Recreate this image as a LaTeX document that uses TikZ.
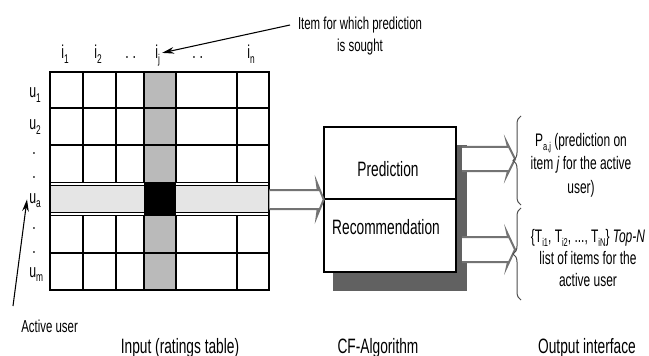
\documentclass[tikz,border=0pt]{standalone}
\usepackage{fontspec}
\setmainfont[FakeStretch=0.66]{Liberation Sans}
\usetikzlibrary{calc,fit,arrows.meta,decorations.pathreplacing}

% lowered index for the row and column labels
\newcommand\dn[1]{\raisebox{-3.5pt}{\fontsize{9.5}{9.5}\selectfont#1}}
% lowered index inside running text
\newcommand\tdn[1]{\raisebox{-3pt}{\fontsize{8.5}{8.5}\selectfont#1}}

% hollow block arrow: #1 tail, #2 tip, #3 shaft half width, #4 head half width, #5 head length
\newcommand\fatarrow[5]{%
  \draw[fat] ($(#1)+(0,-#3)$) -- ($(#2)+(-#5,-#3)$) -- ($(#2)+(-#5-1,-#4)$) -- (#2)
    -- ($(#2)+(-#5-1,#4)$) -- ($(#2)+(-#5,#3)$) -- ($(#1)+(0,#3)$);}

\begin{document}
\begin{tikzpicture}[x=0.75pt,y=-0.75pt,
  gridline/.style={line width=1.15pt},
  lbl/.style={inner sep=0pt, anchor=base west, font=\fontsize{14}{16}\selectfont},
  big/.style={inner sep=0pt, anchor=base, font=\fontsize{15.6}{18}\selectfont},
  mid/.style={inner sep=0pt, font=\fontsize{13}{16.5}\selectfont, align=center},
  outtxt/.style={inner sep=0pt, anchor=base, align=center},
  fat/.style={draw=black!55, line width=1.5pt, fill=white, line join=miter},
  brc/.style={decorate, decoration={brace, amplitude=6pt}, draw=black!70, line width=0.75pt},
  pointer/.style={-{Stealth[length=9pt,width=5pt]}, line width=0.8pt}
]
\useasboundingbox (0,0) rectangle (649,356);

% ---- ratings table ----
\fill[black!27] (144,72) rectangle (176,290);
\fill[black!10] (50,186) rectangle (269,212);
\fill[black] (144,182) rectangle (176,216);
\foreach \x in {83,116,144,176,237} {
  \draw[gridline] (\x,72) -- (\x,182.5);
  \draw[gridline] (\x,215.5) -- (\x,290);
}
\foreach \y in {108,145,182.5,185.5,212.5,215.5,253}
  \draw[gridline] (50,\y) -- (269,\y);
\draw[gridline] (50,72) rectangle (269,290);
\path (50,72) coordinate (gridNW) (269,290) coordinate (gridSE);
\node[fit=(gridNW)(gridSE), inner sep=0pt] (grid) {};

% column labels
\node[lbl] (i1) at (61,59) {i\dn{1}};
\node[lbl] (i2) at (94,59) {i\dn{2}};
\node[lbl] (cd1) at (125,59) {.\hspace{3pt}.};
\node[lbl] (ij) at (155,59) {i\dn{j}};
\node[lbl] (cd2) at (192,59) {.\hspace{3pt}.};
\node[lbl] (in) at (247,59) {i\dn{n}};

% row labels
\node[lbl] (u1) at (29,98) {u\dn{1}};
\node[lbl] (u2) at (29,130) {u\dn{2}};
\node[lbl] (rd1) at (32,155) {.};
\node[lbl] (rd2) at (32,179) {.};
\node[lbl] (ua) at (29,203) {u\dn{a}};
\node[lbl] (rd3) at (32,229) {.};
\node[lbl] (rd4) at (32,253) {.};
\node[lbl] (um) at (29,277) {u\dn{m}};

% pointers (base of a two-line node is the base of its last line)
\node[mid, anchor=base] (item) at (360,52) {Item for which prediction\\is sought};
\coordinate (itemTail) at (290,25);
\draw[pointer] (itemTail) -- ($(ij.east)+(2,-3)$);

\node[mid, anchor=base west] (active) at (21,332) {Active user};
\coordinate (activeTail) at (13,306);
\draw[pointer] (activeTail) -- ($(ua.west)+(-2,-1)$);

% ---- CF algorithm block ----
\fill[black!62] (333,145) rectangle (467,291);
\draw[fill=white, line width=0.8pt] (324,127) rectangle (456,272);
\draw[line width=0.8pt] (324,199) -- (456,199);
\path (324,127) coordinate (cfNW) (456,272) coordinate (cfSE);
\node[fit=(cfNW)(cfSE), inner sep=0pt] (cf) {};
\node[big] (pred) at (388,176) {Prediction};
\node[big] (rec) at (386,234) {Recommendation};

% input arrow
\coordinate (inTail) at (grid.east |- cf.west);
\fatarrow{inTail}{cf.west}{9.5}{17}{6}

% output arrows and braces
\coordinate (o1Tail) at (462,159);
\coordinate (o1Tip) at (515,159);
\coordinate (o2Tail) at (462,249.5);
\coordinate (o2Tip) at (515,249.5);
\fatarrow{o1Tail}{o1Tip}{12}{16}{7}
\fatarrow{o2Tail}{o2Tip}{12.5}{17}{7}
\draw[brc] (521,205) -- (521,116);
\draw[brc] (521,300) -- (521,208);

\node[outtxt, font=\fontsize{13.6}{17.5}\selectfont] (outP) at (581,193) {P\tdn{a,j} (prediction on\\item \textit{j} for the active\\user)};
\node[outtxt, font=\fontsize{13.6}{16.5}\selectfont] (outT) at (588,286) {\{T\tdn{i1}, T\tdn{i2}, ..., T\tdn{iN}\} \textit{Top-N}\\list of items for the\\active user};

% ---- captions ----
\node[big] (capIn) at (180,353) {Input (ratings table)};
\node[big] (capCF) at (378,353) {CF-Algorithm};
\node[big] (capOut) at (587,353) {Output interface};
\end{tikzpicture}
\end{document}
